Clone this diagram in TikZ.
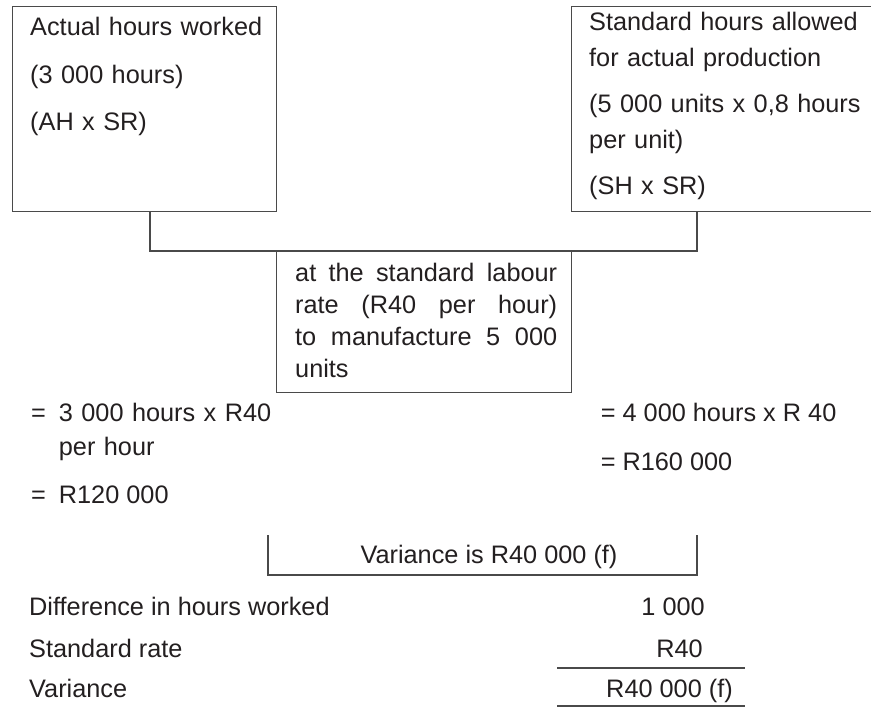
\documentclass[tikz,border=0pt]{standalone}
\usepackage{fontspec}
\setmainfont{Liberation Sans}
\usetikzlibrary{calc}
\definecolor{ink}{HTML}{231F20}
\definecolor{edge}{HTML}{4A4A4A}
\tikzset{
	box/.style={draw=edge, line width=1.4pt, inner sep=0pt, anchor=north west},
	txt/.style={text=ink, inner sep=0pt, anchor=base west, font=\fontsize{25.3}{36}\selectfont},
	rulebar/.style={draw=edge, line width=1.4pt},
}

\begin{document}
\begin{tikzpicture}[x=1pt, y=-1pt]
		%%%%% START %%%%%
		\useasboundingbox (0,0) rectangle (871,709);
		
		% the three boxes
		\node[box, minimum width=264pt, minimum height=205pt] (actual) at (12,6) {};
		\node[box, minimum width=310pt, minimum height=205pt] (standard) at (571,6) {};
		\node[box, minimum width=295pt, minimum height=141pt] (rate) at (276,251) {};
		\draw[rulebar] ([xshift=138pt]actual.south west) |- (rate.north) -| ([xshift=126pt]standard.south west);
		
		\node[txt, text width=240pt, align=left, font=\fontsize{25.3}{47.5}\selectfont] (actualtxt) at (30,36) {Actual hours worked\\(3 000 hours)\\(AH x SR)};
		\node[txt, text width=280pt, align=left] (standardtxt) at (589,30.7) {Standard hours allowed\\for actual production\\[10pt](5 000 units x 0,8 hours\\per unit)\\[10pt](SH x SR)};
		\node[txt, text width=262pt, align=justify, font=\fontsize{25.3}{32.3}\selectfont] (ratetxt) at (295,281) {at the standard labour\linebreak rate (R40 per hour)\linebreak to manufacture 5 000\linebreak units};
		
		% costs
		\node[txt] (eqa) at (31,421.7) {=};
		\node[txt, text width=220pt, align=left, font=\fontsize{25.3}{33.3}\selectfont] (hoursa) at (58.7,421.7) {3 000 hours x R40\\per hour};
		\node[txt] (eqb) at (31,503) {=};
		\node[txt] (totala) at (58.7,503) {R120 000};
		\node[txt] (hoursb) at (600.6,421.7) {= 4 000 hours x R 40};
		\node[txt] (totalb) at (600.6,470) {= R160 000};
		
		% variance
		\coordinate (varL) at (268,535);
		\coordinate (varR) at (697,535);
		\draw[rulebar] (varL) -- ++(0,40) -| (varR);
		\node[txt, anchor=base] (variance) at (489,563) {Variance is R40 000 (f)};
		
		\node[txt] (diff) at (29,615) {Difference in hours worked};
		\node[txt, anchor=base east] (diffval) at (705,615) {1 000};
		\node[txt] (stdrate) at (29,657) {Standard rate};
		\node[txt, anchor=base east] (rateval) at (703,657) {R40};
		\draw[rulebar] (557,668) -- (745,668);
		\node[txt] (var) at (29,697) {Variance};
		\node[txt, anchor=base east] (varval) at (733,697) {R40 000 (f)};
		\draw[rulebar] (557,706) -- (745,706);
		
		%%%%% END %%%%%
\end{tikzpicture}
\end{document}
